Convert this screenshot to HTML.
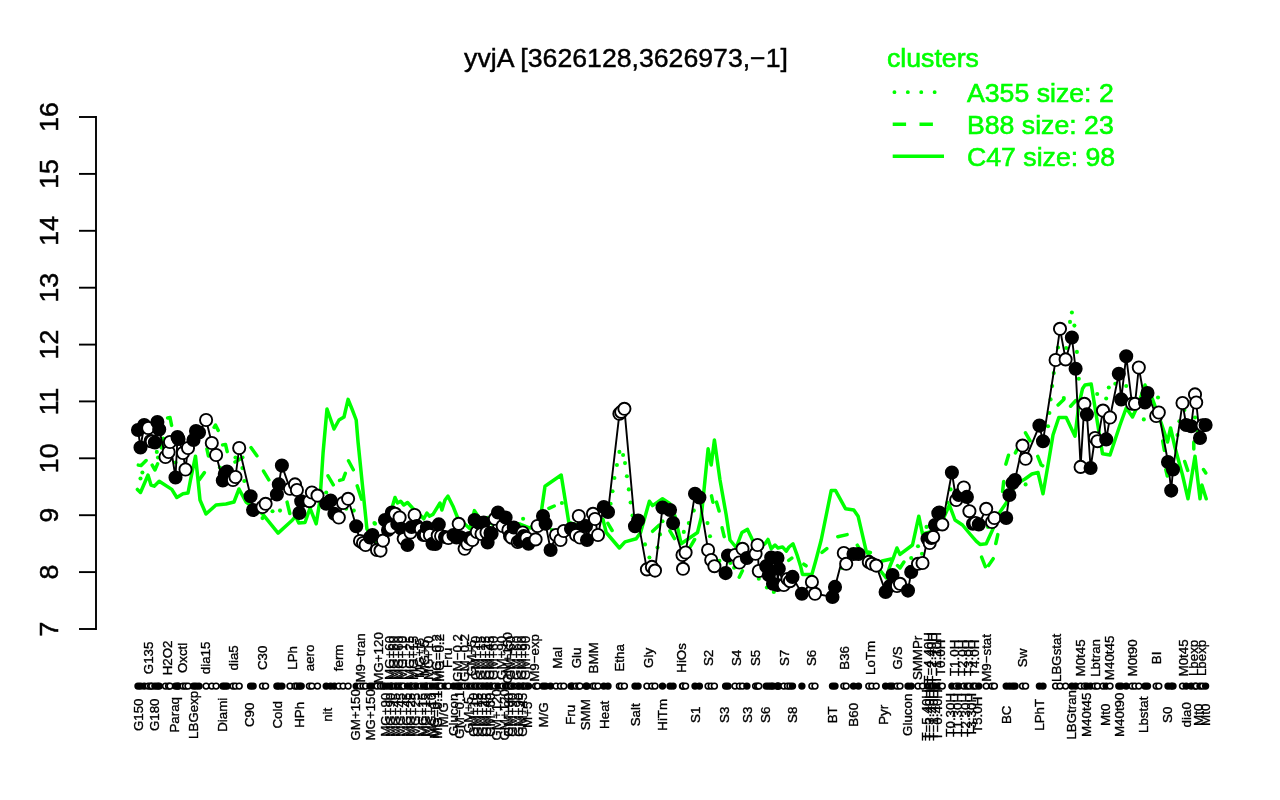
<!DOCTYPE html>
<html><head><meta charset="utf-8"><title>yvjA</title>
<style>html,body{margin:0;padding:0;background:#fff}svg{display:block}</style></head>
<body>
<svg width="1280" height="800" viewBox="0 0 1280 800" style="display:block">
<rect width="1280" height="800" fill="#fff"/>
<text x="626" y="66.6" font-family="'Liberation Sans', Arial, Helvetica, sans-serif" font-size="26.67" text-anchor="middle" fill="#000" stroke="#000" stroke-width="0.45">yvjA [3626128,3626973,−1]</text>
<g font-family="'Liberation Sans', Arial, Helvetica, sans-serif" font-size="26.67" fill="#00ff00" stroke="#00ff00" stroke-width="0.6">
<text x="887" y="67">clusters</text>
<text x="967" y="101.5">A355 size: 2</text>
<text x="967" y="133.5">B88 size: 23</text>
<text x="967" y="165.5">C47 size: 98</text>
</g>
<g stroke="#00ff00" stroke-width="3.6" fill="none">
<path d="M894.4 92.2H944" stroke-dasharray="0.1 13.3" stroke-linecap="round" stroke-width="3.8"/>
<path d="M892.7 124.2H944" stroke-dasharray="13.4 13.4"/>
<path d="M892.7 156.2H944"/>
</g>
<g stroke="#000" stroke-width="1.9" fill="none" stroke-linecap="butt">
<path d="M96 116.0V630.0"/>
<path d="M79 629.0H96"/>
<path d="M79 572.1H96"/>
<path d="M79 515.2H96"/>
<path d="M79 458.3H96"/>
<path d="M79 401.4H96"/>
<path d="M79 344.6H96"/>
<path d="M79 287.7H96"/>
<path d="M79 230.8H96"/>
<path d="M79 173.9H96"/>
<path d="M79 117.0H96"/>
</g>
<g font-family="'Liberation Sans', Arial, Helvetica, sans-serif" font-size="26.67" fill="#000" stroke="#000" stroke-width="0.5" text-anchor="middle">
<text transform="translate(58.3 629.0) rotate(-90)">7</text>
<text transform="translate(58.3 572.1) rotate(-90)">8</text>
<text transform="translate(58.3 515.2) rotate(-90)">9</text>
<text transform="translate(58.3 458.3) rotate(-90)">10</text>
<text transform="translate(58.3 401.4) rotate(-90)">11</text>
<text transform="translate(58.3 344.6) rotate(-90)">12</text>
<text transform="translate(58.3 287.7) rotate(-90)">13</text>
<text transform="translate(58.3 230.8) rotate(-90)">14</text>
<text transform="translate(58.3 173.9) rotate(-90)">15</text>
<text transform="translate(58.3 117.0) rotate(-90)">16</text>
</g>
<g stroke="#00ff00" stroke-width="3.5" fill="none" stroke-linejoin="round" stroke-linecap="round">
<polyline points="137.4,489.4 140.5,492.5 148.0,475.0 151.0,485.0 154.2,486.2 159.2,481.2 171.8,489.4 176.8,497.5 183.0,493.8 188.0,493.0 190.5,480.0 195.5,456.2 198.0,480.0 200.0,500.0 206.0,514.0 216.0,505.0 226.0,504.0 234.0,502.0 239.0,489.0 246.0,502.0 262.5,513.8 278.1,533.1 292.5,520.0 295.6,516.2 298.8,523.1 305.0,522.5 310.0,508.1 316.2,523.8 320.0,500.0 323.1,452.5 327.0,409.0 334.0,429.0 339.0,420.0 344.0,417.0 348.1,399.4 352.0,409.0 356.2,420.0 358.1,442.5 361.9,480.0 366.9,528.8 371.0,536.0 378.0,545.0 384.0,535.0 388.0,520.0 392.5,506.0 395.0,497.5 397.5,503.0 400.6,501.2 403.8,505.0 407.5,502.5 412.5,508.0 415.0,510.0 423.8,518.8 426.9,513.0 429.4,516.2 433.0,514.4 440.0,503.0 441.9,510.0 445.0,500.0 448.0,496.2 453.0,506.2 457.5,517.5 470.0,528.8 474.4,510.6 478.8,517.5 483.0,522.0 487.5,517.5 492.0,524.0 500.0,522.0 520.0,524.0 530.0,528.0 538.0,522.0 541.2,512.5 545.0,486.2 561.2,475.0 568.8,522.5 580.0,526.0 590.0,524.0 603.0,519.4 606.2,532.5 619.4,548.0 625.0,541.9 636.2,538.8 640.6,532.5 649.4,501.2 652.5,505.6 662.5,498.8 670.0,503.8 675.0,516.2 681.2,543.8 697.5,532.5 701.2,517.5 705.0,480.0 708.1,448.8 711.2,465.0 714.4,440.0 720.0,480.0 726.2,515.0 730.0,540.0 736.2,547.5 741.9,532.5 747.5,529.4 752.5,540.0 758.0,548.0 765.0,543.8 768.0,539.4 771.2,548.8 775.0,545.0 778.0,548.0 782.5,546.9 786.2,551.2 789.0,547.0 793.0,543.8 797.5,556.2 800.6,566.2 802.5,574.4 811.9,574.4 815.6,561.2 821.2,540.0 831.2,490.6 835.6,490.6 845.6,508.8 853.8,510.0 858.1,516.2 866.2,551.2 876.0,565.0 886.2,578.0 890.0,566.0 893.0,558.8 896.9,548.0 900.0,554.4 912.5,545.0 918.8,516.2 922.5,534.0 930.0,532.0 943.8,517.5 949.4,505.0 955.0,520.0 962.5,525.0 970.0,534.0 976.2,541.2 980.0,544.4 986.2,543.8 991.9,531.2 1000.0,512.0 1006.2,503.0 1012.0,490.0 1018.8,482.5 1025.0,479.0 1031.9,474.0 1038.0,472.5 1043.0,493.8 1048.0,465.0 1053.0,435.0 1058.8,417.5 1066.2,417.5 1075.0,436.2 1078.8,405.0 1082.5,388.8 1085.0,385.0 1091.2,384.0 1096.2,415.0 1102.5,453.8 1110.0,455.0 1120.0,425.0 1126.2,408.0 1132.5,417.0 1138.0,405.0 1145.0,385.0 1152.5,399.0 1161.2,423.0 1167.5,442.0 1170.6,428.0 1175.0,447.5 1182.5,475.0 1188.0,498.8 1195.0,456.2 1200.0,498.8 1201.9,485.0 1206.2,498.8"/>
<path stroke-linecap="round" d="M138.3 465.1 L141.1 465.6 L146.1 460.6 M152.2 465.2 L154.9 470.0 L157.6 463.9 M163.4 438.4 L161.3 447.9 M167.6 417.9 L170.0 417.5 L171.6 425.4 M204.4 472.6 L199.1 479.9 M206.9 449.0 L208.4 456.0 M214.1 427.3 L215.5 425.0 L218.2 430.4 M222.6 444.9 L225.5 444.4 L227.2 451.6 M235.0 462.0 L242.8 457.4 M251.0 447.6 L256.9 455.8 M263.5 471.1 L268.8 479.8 M287.1 502.1 L289.8 513.5 M328.0 475.8 L333.3 484.8 M339.6 480.4 L343.1 479.4 L345.3 473.3 M348.5 460.8 L353.3 469.8 M357.2 485.9 L361.6 499.1 M548.9 508.4 L554.2 506.0 M607.9 523.3 L612.1 530.5 M652.6 531.3 L659.3 525.0 M669.9 530.8 L674.5 538.6 M690.4 546.7 L694.6 539.5 M711.5 495.9 L712.9 502.2 M716.5 502.1 L719.1 511.0 M722.1 527.8 L724.2 536.6 M739.2 577.2 L742.4 570.8 M788.7 560.4 L791.8 558.1 M803.8 564.2 L806.1 565.8 M822.0 552.4 L826.8 548.6 M837.8 536.7 L847.1 534.6 M857.3 545.2 L859.6 549.2 M868.4 552.1 L870.4 552.4 M882.1 561.0 L891.1 559.0 M897.5 565.6 L900.0 568.0 L903.9 562.0 M981.6 557.1 L985.3 566.7 M988.5 565.5 L993.2 558.7 M995.8 543.5 L997.8 534.6 M1002.6 491.6 L1003.7 481.5 M1005.9 464.1 L1008.5 455.3 M1015.4 452.9 L1017.1 449.6 M1025.5 432.8 L1030.1 440.8 M1037.8 456.4 L1041.2 465.0 L1042.7 465.8 M1058.1 405.0 L1063.8 399.4 M1070.6 406.2 L1075.6 400.7 M1162.7 440.9 L1164.4 450.4 M1165.8 469.6 L1167.3 476.0 M1184.7 461.5 L1187.7 470.4 M1193.8 442.1 L1193.8 449.1 M1203.5 469.5 L1205.8 473.0"/>
</g>
<g fill="#00ff00">
<circle cx="142.4" cy="472.5" r="2.05"/>
<circle cx="140.5" cy="478.5" r="2.05"/>
<circle cx="156.8" cy="451.9" r="2.05"/>
<circle cx="158.0" cy="457.5" r="2.05"/>
<circle cx="175.5" cy="462.5" r="2.05"/>
<circle cx="219.9" cy="467.5" r="2.05"/>
<circle cx="235.5" cy="457.5" r="2.05"/>
<circle cx="242.4" cy="468.1" r="2.05"/>
<circle cx="244.3" cy="481.0" r="2.05"/>
<circle cx="262.5" cy="518.1" r="2.05"/>
<circle cx="272.5" cy="511.2" r="2.05"/>
<circle cx="280.0" cy="510.6" r="2.05"/>
<circle cx="326.2" cy="492.5" r="2.05"/>
<circle cx="346.2" cy="508.8" r="2.05"/>
<circle cx="353.8" cy="510.6" r="2.05"/>
<circle cx="374.4" cy="523.1" r="2.05"/>
<circle cx="375.0" cy="523.8" r="2.05"/>
<circle cx="523.1" cy="518.8" r="2.05"/>
<circle cx="561.9" cy="503.0" r="2.05"/>
<circle cx="551.9" cy="530.0" r="2.05"/>
<circle cx="610.6" cy="503.8" r="2.05"/>
<circle cx="612.5" cy="491.2" r="2.05"/>
<circle cx="614.4" cy="478.0" r="2.05"/>
<circle cx="616.9" cy="465.0" r="2.05"/>
<circle cx="619.4" cy="451.9" r="2.05"/>
<circle cx="623.1" cy="455.0" r="2.05"/>
<circle cx="625.0" cy="463.1" r="2.05"/>
<circle cx="626.9" cy="476.2" r="2.05"/>
<circle cx="628.8" cy="489.4" r="2.05"/>
<circle cx="630.6" cy="502.5" r="2.05"/>
<circle cx="632.5" cy="515.6" r="2.05"/>
<circle cx="645.0" cy="544.4" r="2.05"/>
<circle cx="649.4" cy="557.5" r="2.05"/>
<circle cx="657.5" cy="547.5" r="2.05"/>
<circle cx="660.0" cy="534.4" r="2.05"/>
<circle cx="662.5" cy="521.2" r="2.05"/>
<circle cx="683.8" cy="531.9" r="2.05"/>
<circle cx="688.8" cy="523.1" r="2.05"/>
<circle cx="693.8" cy="510.6" r="2.05"/>
<circle cx="707.5" cy="523.1" r="2.05"/>
<circle cx="710.0" cy="536.2" r="2.05"/>
<circle cx="719.4" cy="560.9" r="2.05"/>
<circle cx="730.3" cy="563.0" r="2.05"/>
<circle cx="734.1" cy="567.8" r="2.05"/>
<circle cx="758.8" cy="578.8" r="2.05"/>
<circle cx="766.9" cy="587.5" r="2.05"/>
<circle cx="773.8" cy="591.9" r="2.05"/>
<circle cx="841.9" cy="568.0" r="2.05"/>
<circle cx="911.2" cy="558.0" r="2.05"/>
<circle cx="918.0" cy="546.2" r="2.05"/>
<circle cx="922.0" cy="553.8" r="2.05"/>
<circle cx="926.5" cy="526.9" r="2.05"/>
<circle cx="947.5" cy="502.5" r="2.05"/>
<circle cx="950.6" cy="489.4" r="2.05"/>
<circle cx="988.0" cy="526.9" r="2.05"/>
<circle cx="1025.6" cy="484.4" r="2.05"/>
<circle cx="1048.0" cy="426.2" r="2.05"/>
<circle cx="1049.4" cy="413.0" r="2.05"/>
<circle cx="1050.6" cy="399.4" r="2.05"/>
<circle cx="1052.2" cy="386.0" r="2.05"/>
<circle cx="1053.8" cy="373.0" r="2.05"/>
<circle cx="1058.0" cy="347.5" r="2.05"/>
<circle cx="1066.2" cy="348.0" r="2.05"/>
<circle cx="1070.0" cy="321.9" r="2.05"/>
<circle cx="1071.9" cy="312.5" r="2.05"/>
<circle cx="1074.4" cy="325.6" r="2.05"/>
<circle cx="1076.9" cy="351.9" r="2.05"/>
<circle cx="1078.8" cy="378.8" r="2.05"/>
<circle cx="1063.8" cy="398.0" r="2.05"/>
<circle cx="1097.2" cy="394.0" r="2.05"/>
<circle cx="1106.2" cy="398.5" r="2.05"/>
<circle cx="1108.8" cy="387.5" r="2.05"/>
<circle cx="1115.3" cy="383.8" r="2.05"/>
<circle cx="1126.2" cy="386.0" r="2.05"/>
<circle cx="1143.8" cy="419.4" r="2.05"/>
<circle cx="1158.0" cy="397.5" r="2.05"/>
<circle cx="1179.4" cy="421.2" r="2.05"/>
<circle cx="1177.5" cy="435.0" r="2.05"/>
<circle cx="1184.4" cy="410.0" r="2.05"/>
<circle cx="1195.0" cy="417.5" r="2.05"/>
<circle cx="1198.0" cy="431.2" r="2.05"/>
</g>
<polyline points="138.0,430.0 140.5,447.5 144.2,425.0 148.2,428.0 150.6,441.0 151.8,441.5 154.9,442.5 157.4,422.0 159.2,429.5 165.5,457.0 168.6,452.0 170.0,442.0 175.5,477.5 177.5,437.0 178.5,439.0 183.0,453.0 185.5,469.5 188.0,448.0 193.5,440.0 196.0,431.0 199.0,432.5 206.1,420.0 211.8,443.0 216.1,455.0 222.8,480.5 224.8,474.0 227.0,471.5 233.0,480.0 235.5,477.0 239.2,448.0 250.6,496.2 253.1,510.0 262.5,507.0 265.6,503.8 276.9,494.4 278.8,484.4 281.9,465.6 290.0,488.8 295.0,484.4 296.9,490.0 299.4,513.0 301.2,501.2 309.4,501.2 311.9,492.5 317.5,495.6 326.2,503.8 330.6,500.6 334.4,513.8 338.8,517.5 343.1,503.0 348.1,498.8 356.2,526.2 360.0,541.0 363.0,543.0 365.6,545.0 370.0,537.5 372.5,535.0 377.0,550.0 380.5,550.6 383.0,540.6 385.0,520.0 388.0,530.0 390.9,527.5 391.9,512.5 395.2,513.8 397.3,524.0 399.6,517.5 401.4,528.8 403.7,538.8 407.5,545.0 410.5,532.5 411.6,527.0 414.6,515.0 416.8,526.0 420.9,529.0 423.5,535.0 425.9,535.0 426.9,527.5 429.9,535.0 432.5,543.8 435.5,544.0 437.7,535.6 438.8,524.4 441.1,536.0 445.0,537.0 448.4,538.0 453.5,535.0 456.5,537.5 458.7,523.8 459.8,537.0 461.8,538.0 464.6,548.8 467.4,543.8 469.6,538.0 472.4,540.0 474.6,520.0 476.8,532.0 479.0,523.0 481.5,534.0 483.7,522.5 486.5,532.5 487.6,542.5 490.5,533.0 491.6,533.8 494.9,518.8 498.0,512.5 502.7,526.0 505.6,517.5 508.4,530.0 510.0,536.0 511.5,537.5 513.8,527.5 517.7,542.0 519.5,541.0 522.7,532.5 523.8,536.0 526.5,538.0 528.5,543.8 535.6,539.4 537.5,526.0 543.0,516.0 545.6,523.8 550.6,550.0 556.0,535.0 560.5,540.0 563.8,531.0 571.0,528.8 572.5,529.0 576.0,535.0 578.8,516.0 580.0,537.5 586.0,526.0 587.0,540.0 593.0,513.8 595.0,519.0 598.0,535.0 603.8,507.0 608.0,512.0 619.4,413.8 621.2,411.9 624.4,408.8 635.0,526.2 638.1,520.6 646.9,569.4 651.9,566.9 655.0,570.6 662.5,507.5 670.0,510.0 673.1,523.1 682.5,555.0 683.0,568.8 685.6,552.5 695.0,493.8 699.4,497.5 708.1,550.0 711.2,560.0 714.4,566.2 725.6,573.1 728.0,555.6 735.0,555.0 739.4,562.5 742.5,548.8 746.9,558.0 755.6,553.8 757.5,545.0 758.8,571.0 766.2,566.2 768.8,575.0 771.2,557.5 773.0,583.8 777.5,558.0 777.5,585.0 778.8,568.8 783.8,585.0 787.5,579.0 790.0,581.2 792.5,576.9 801.9,593.8 811.9,581.9 815.0,593.8 832.5,596.9 835.0,586.9 843.8,553.0 846.2,563.8 853.5,554.0 858.5,554.0 868.8,561.9 871.9,563.8 876.2,565.6 885.6,591.9 890.0,586.0 892.5,575.0 897.0,586.0 900.0,583.8 908.0,590.6 911.2,571.9 918.0,563.8 922.5,563.0 927.5,538.8 929.7,543.0 931.3,538.0 933.2,536.9 935.0,525.0 938.3,513.3 939.3,512.5 942.3,524.4 951.9,472.5 956.2,500.0 958.8,495.0 963.8,487.5 966.9,496.9 969.4,511.2 973.0,523.8 975.5,523.0 978.8,524.4 986.2,508.8 992.0,522.0 994.4,518.0 1006.2,518.0 1009.4,495.0 1012.5,483.0 1015.0,480.0 1022.5,445.6 1025.6,458.8 1039.4,425.6 1043.0,441.2 1055.6,360.0 1060.0,328.8 1065.6,359.4 1071.9,337.5 1075.6,368.8 1080.6,466.9 1084.4,403.8 1086.9,414.4 1090.6,468.0 1095.0,438.0 1097.5,441.2 1103.0,410.6 1106.2,439.4 1110.0,417.5 1118.8,373.8 1121.2,399.4 1126.2,356.2 1132.0,403.8 1135.0,403.8 1138.8,367.5 1145.0,402.5 1147.5,393.0 1156.2,416.0 1158.8,412.5 1168.0,462.0 1171.2,490.6 1173.0,469.4 1182.5,403.0 1186.2,425.0 1191.2,426.2 1195.0,394.4 1196.2,402.5 1200.0,438.0 1202.6,425.4 1205.6,425.0" stroke="#000" stroke-width="1.9" fill="none" stroke-linejoin="round"/>
<g stroke="#000" stroke-width="1.9">
<circle cx="138.0" cy="430.0" r="6.1" fill="#000"/>
<circle cx="140.5" cy="447.5" r="6.1" fill="#000"/>
<circle cx="144.2" cy="425.0" r="6.1" fill="#000"/>
<circle cx="148.2" cy="428.0" r="6.1" fill="#fff"/>
<circle cx="150.6" cy="441.0" r="6.1" fill="#fff"/>
<circle cx="151.8" cy="441.5" r="6.1" fill="#fff"/>
<circle cx="154.9" cy="442.5" r="6.1" fill="#000"/>
<circle cx="157.4" cy="422.0" r="6.1" fill="#000"/>
<circle cx="159.2" cy="429.5" r="6.1" fill="#000"/>
<circle cx="165.5" cy="457.0" r="6.1" fill="#fff"/>
<circle cx="168.6" cy="452.0" r="6.1" fill="#fff"/>
<circle cx="170.0" cy="442.0" r="6.1" fill="#fff"/>
<circle cx="175.5" cy="477.5" r="6.1" fill="#000"/>
<circle cx="177.5" cy="437.0" r="6.1" fill="#000"/>
<circle cx="178.5" cy="439.0" r="6.1" fill="#000"/>
<circle cx="183.0" cy="453.0" r="6.1" fill="#fff"/>
<circle cx="185.5" cy="469.5" r="6.1" fill="#fff"/>
<circle cx="188.0" cy="448.0" r="6.1" fill="#fff"/>
<circle cx="193.5" cy="440.0" r="6.1" fill="#000"/>
<circle cx="196.0" cy="431.0" r="6.1" fill="#000"/>
<circle cx="199.0" cy="432.5" r="6.1" fill="#000"/>
<circle cx="206.1" cy="420.0" r="6.1" fill="#fff"/>
<circle cx="211.8" cy="443.0" r="6.1" fill="#fff"/>
<circle cx="216.1" cy="455.0" r="6.1" fill="#fff"/>
<circle cx="222.8" cy="480.5" r="6.1" fill="#000"/>
<circle cx="224.8" cy="474.0" r="6.1" fill="#000"/>
<circle cx="227.0" cy="471.5" r="6.1" fill="#000"/>
<circle cx="233.0" cy="480.0" r="6.1" fill="#fff"/>
<circle cx="235.5" cy="477.0" r="6.1" fill="#fff"/>
<circle cx="239.2" cy="448.0" r="6.1" fill="#fff"/>
<circle cx="250.6" cy="496.2" r="6.1" fill="#000"/>
<circle cx="253.1" cy="510.0" r="6.1" fill="#000"/>
<circle cx="262.5" cy="507.0" r="6.1" fill="#fff"/>
<circle cx="265.6" cy="503.8" r="6.1" fill="#fff"/>
<circle cx="276.9" cy="494.4" r="6.1" fill="#000"/>
<circle cx="278.8" cy="484.4" r="6.1" fill="#000"/>
<circle cx="281.9" cy="465.6" r="6.1" fill="#000"/>
<circle cx="290.0" cy="488.8" r="6.1" fill="#fff"/>
<circle cx="295.0" cy="484.4" r="6.1" fill="#fff"/>
<circle cx="296.9" cy="490.0" r="6.1" fill="#fff"/>
<circle cx="299.4" cy="513.0" r="6.1" fill="#000"/>
<circle cx="301.2" cy="501.2" r="6.1" fill="#000"/>
<circle cx="309.4" cy="501.2" r="6.1" fill="#fff"/>
<circle cx="311.9" cy="492.5" r="6.1" fill="#fff"/>
<circle cx="317.5" cy="495.6" r="6.1" fill="#fff"/>
<circle cx="326.2" cy="503.8" r="6.1" fill="#000"/>
<circle cx="330.6" cy="500.6" r="6.1" fill="#000"/>
<circle cx="334.4" cy="513.8" r="6.1" fill="#000"/>
<circle cx="338.8" cy="517.5" r="6.1" fill="#fff"/>
<circle cx="343.1" cy="503.0" r="6.1" fill="#fff"/>
<circle cx="348.1" cy="498.8" r="6.1" fill="#fff"/>
<circle cx="356.2" cy="526.2" r="6.1" fill="#000"/>
<circle cx="360.0" cy="541.0" r="6.1" fill="#fff"/>
<circle cx="363.0" cy="543.0" r="6.1" fill="#fff"/>
<circle cx="365.6" cy="545.0" r="6.1" fill="#fff"/>
<circle cx="370.0" cy="537.5" r="6.1" fill="#000"/>
<circle cx="372.5" cy="535.0" r="6.1" fill="#000"/>
<circle cx="377.0" cy="550.0" r="6.1" fill="#fff"/>
<circle cx="380.5" cy="550.6" r="6.1" fill="#fff"/>
<circle cx="383.0" cy="540.6" r="6.1" fill="#fff"/>
<circle cx="385.0" cy="520.0" r="6.1" fill="#000"/>
<circle cx="388.0" cy="530.0" r="6.1" fill="#000"/>
<circle cx="390.9" cy="527.5" r="6.1" fill="#fff"/>
<circle cx="391.9" cy="512.5" r="6.1" fill="#000"/>
<circle cx="395.2" cy="513.8" r="6.1" fill="#fff"/>
<circle cx="397.3" cy="524.0" r="6.1" fill="#000"/>
<circle cx="399.6" cy="517.5" r="6.1" fill="#fff"/>
<circle cx="401.4" cy="528.8" r="6.1" fill="#000"/>
<circle cx="403.7" cy="538.8" r="6.1" fill="#fff"/>
<circle cx="407.5" cy="545.0" r="6.1" fill="#000"/>
<circle cx="410.5" cy="532.5" r="6.1" fill="#fff"/>
<circle cx="411.6" cy="527.0" r="6.1" fill="#000"/>
<circle cx="414.6" cy="515.0" r="6.1" fill="#fff"/>
<circle cx="416.8" cy="526.0" r="6.1" fill="#000"/>
<circle cx="420.9" cy="529.0" r="6.1" fill="#fff"/>
<circle cx="423.5" cy="535.0" r="6.1" fill="#000"/>
<circle cx="425.9" cy="535.0" r="6.1" fill="#fff"/>
<circle cx="426.9" cy="527.5" r="6.1" fill="#000"/>
<circle cx="429.9" cy="535.0" r="6.1" fill="#fff"/>
<circle cx="432.5" cy="543.8" r="6.1" fill="#000"/>
<circle cx="435.5" cy="544.0" r="6.1" fill="#000"/>
<circle cx="437.7" cy="535.6" r="6.1" fill="#fff"/>
<circle cx="438.8" cy="524.4" r="6.1" fill="#000"/>
<circle cx="441.1" cy="536.0" r="6.1" fill="#fff"/>
<circle cx="445.0" cy="537.0" r="6.1" fill="#000"/>
<circle cx="448.4" cy="538.0" r="6.1" fill="#fff"/>
<circle cx="453.5" cy="535.0" r="6.1" fill="#000"/>
<circle cx="456.5" cy="537.5" r="6.1" fill="#000"/>
<circle cx="458.7" cy="523.8" r="6.1" fill="#fff"/>
<circle cx="459.8" cy="537.0" r="6.1" fill="#000"/>
<circle cx="461.8" cy="538.0" r="6.1" fill="#000"/>
<circle cx="464.6" cy="548.8" r="6.1" fill="#fff"/>
<circle cx="467.4" cy="543.8" r="6.1" fill="#fff"/>
<circle cx="469.6" cy="538.0" r="6.1" fill="#000"/>
<circle cx="472.4" cy="540.0" r="6.1" fill="#fff"/>
<circle cx="474.6" cy="520.0" r="6.1" fill="#000"/>
<circle cx="476.8" cy="532.0" r="6.1" fill="#fff"/>
<circle cx="479.0" cy="523.0" r="6.1" fill="#000"/>
<circle cx="481.5" cy="534.0" r="6.1" fill="#fff"/>
<circle cx="483.7" cy="522.5" r="6.1" fill="#000"/>
<circle cx="486.5" cy="532.5" r="6.1" fill="#fff"/>
<circle cx="487.6" cy="542.5" r="6.1" fill="#000"/>
<circle cx="490.5" cy="533.0" r="6.1" fill="#fff"/>
<circle cx="491.6" cy="533.8" r="6.1" fill="#000"/>
<circle cx="494.9" cy="518.8" r="6.1" fill="#fff"/>
<circle cx="498.0" cy="512.5" r="6.1" fill="#000"/>
<circle cx="502.7" cy="526.0" r="6.1" fill="#fff"/>
<circle cx="505.6" cy="517.5" r="6.1" fill="#000"/>
<circle cx="508.4" cy="530.0" r="6.1" fill="#fff"/>
<circle cx="510.0" cy="536.0" r="6.1" fill="#000"/>
<circle cx="511.5" cy="537.5" r="6.1" fill="#fff"/>
<circle cx="513.8" cy="527.5" r="6.1" fill="#000"/>
<circle cx="517.7" cy="542.0" r="6.1" fill="#fff"/>
<circle cx="519.5" cy="541.0" r="6.1" fill="#000"/>
<circle cx="522.7" cy="532.5" r="6.1" fill="#fff"/>
<circle cx="523.8" cy="536.0" r="6.1" fill="#000"/>
<circle cx="526.5" cy="538.0" r="6.1" fill="#fff"/>
<circle cx="528.5" cy="543.8" r="6.1" fill="#000"/>
<circle cx="535.6" cy="539.4" r="6.1" fill="#fff"/>
<circle cx="537.5" cy="526.0" r="6.1" fill="#fff"/>
<circle cx="543.0" cy="516.0" r="6.1" fill="#000"/>
<circle cx="545.6" cy="523.8" r="6.1" fill="#000"/>
<circle cx="550.6" cy="550.0" r="6.1" fill="#000"/>
<circle cx="556.0" cy="535.0" r="6.1" fill="#fff"/>
<circle cx="560.5" cy="540.0" r="6.1" fill="#fff"/>
<circle cx="563.8" cy="531.0" r="6.1" fill="#fff"/>
<circle cx="571.0" cy="528.8" r="6.1" fill="#000"/>
<circle cx="572.5" cy="529.0" r="6.1" fill="#000"/>
<circle cx="576.0" cy="535.0" r="6.1" fill="#fff"/>
<circle cx="578.8" cy="516.0" r="6.1" fill="#fff"/>
<circle cx="580.0" cy="537.5" r="6.1" fill="#fff"/>
<circle cx="586.0" cy="526.0" r="6.1" fill="#000"/>
<circle cx="587.0" cy="540.0" r="6.1" fill="#000"/>
<circle cx="593.0" cy="513.8" r="6.1" fill="#fff"/>
<circle cx="595.0" cy="519.0" r="6.1" fill="#fff"/>
<circle cx="598.0" cy="535.0" r="6.1" fill="#fff"/>
<circle cx="603.8" cy="507.0" r="6.1" fill="#000"/>
<circle cx="608.0" cy="512.0" r="6.1" fill="#000"/>
<circle cx="619.4" cy="413.8" r="6.1" fill="#fff"/>
<circle cx="621.2" cy="411.9" r="6.1" fill="#fff"/>
<circle cx="624.4" cy="408.8" r="6.1" fill="#fff"/>
<circle cx="635.0" cy="526.2" r="6.1" fill="#000"/>
<circle cx="638.1" cy="520.6" r="6.1" fill="#000"/>
<circle cx="646.9" cy="569.4" r="6.1" fill="#fff"/>
<circle cx="651.9" cy="566.9" r="6.1" fill="#fff"/>
<circle cx="655.0" cy="570.6" r="6.1" fill="#fff"/>
<circle cx="662.5" cy="507.5" r="6.1" fill="#000"/>
<circle cx="670.0" cy="510.0" r="6.1" fill="#000"/>
<circle cx="673.1" cy="523.1" r="6.1" fill="#000"/>
<circle cx="682.5" cy="555.0" r="6.1" fill="#fff"/>
<circle cx="683.0" cy="568.8" r="6.1" fill="#fff"/>
<circle cx="685.6" cy="552.5" r="6.1" fill="#fff"/>
<circle cx="695.0" cy="493.8" r="6.1" fill="#000"/>
<circle cx="699.4" cy="497.5" r="6.1" fill="#000"/>
<circle cx="708.1" cy="550.0" r="6.1" fill="#fff"/>
<circle cx="711.2" cy="560.0" r="6.1" fill="#fff"/>
<circle cx="714.4" cy="566.2" r="6.1" fill="#fff"/>
<circle cx="725.6" cy="573.1" r="6.1" fill="#000"/>
<circle cx="728.0" cy="555.6" r="6.1" fill="#000"/>
<circle cx="735.0" cy="555.0" r="6.1" fill="#fff"/>
<circle cx="739.4" cy="562.5" r="6.1" fill="#fff"/>
<circle cx="742.5" cy="548.8" r="6.1" fill="#fff"/>
<circle cx="746.9" cy="558.0" r="6.1" fill="#000"/>
<circle cx="755.6" cy="553.8" r="6.1" fill="#fff"/>
<circle cx="757.5" cy="545.0" r="6.1" fill="#fff"/>
<circle cx="758.8" cy="571.0" r="6.1" fill="#fff"/>
<circle cx="766.2" cy="566.2" r="6.1" fill="#000"/>
<circle cx="768.8" cy="575.0" r="6.1" fill="#000"/>
<circle cx="771.2" cy="557.5" r="6.1" fill="#000"/>
<circle cx="773.0" cy="583.8" r="6.1" fill="#000"/>
<circle cx="777.5" cy="558.0" r="6.1" fill="#000"/>
<circle cx="777.5" cy="585.0" r="6.1" fill="#000"/>
<circle cx="778.8" cy="568.8" r="6.1" fill="#000"/>
<circle cx="783.8" cy="585.0" r="6.1" fill="#fff"/>
<circle cx="787.5" cy="579.0" r="6.1" fill="#fff"/>
<circle cx="790.0" cy="581.2" r="6.1" fill="#fff"/>
<circle cx="792.5" cy="576.9" r="6.1" fill="#000"/>
<circle cx="801.9" cy="593.8" r="6.1" fill="#000"/>
<circle cx="811.9" cy="581.9" r="6.1" fill="#fff"/>
<circle cx="815.0" cy="593.8" r="6.1" fill="#fff"/>
<circle cx="832.5" cy="596.9" r="6.1" fill="#000"/>
<circle cx="835.0" cy="586.9" r="6.1" fill="#000"/>
<circle cx="843.8" cy="553.0" r="6.1" fill="#fff"/>
<circle cx="846.2" cy="563.8" r="6.1" fill="#fff"/>
<circle cx="853.5" cy="554.0" r="6.1" fill="#000"/>
<circle cx="858.5" cy="554.0" r="6.1" fill="#000"/>
<circle cx="868.8" cy="561.9" r="6.1" fill="#fff"/>
<circle cx="871.9" cy="563.8" r="6.1" fill="#fff"/>
<circle cx="876.2" cy="565.6" r="6.1" fill="#fff"/>
<circle cx="885.6" cy="591.9" r="6.1" fill="#000"/>
<circle cx="890.0" cy="586.0" r="6.1" fill="#000"/>
<circle cx="892.5" cy="575.0" r="6.1" fill="#000"/>
<circle cx="897.0" cy="586.0" r="6.1" fill="#fff"/>
<circle cx="900.0" cy="583.8" r="6.1" fill="#fff"/>
<circle cx="908.0" cy="590.6" r="6.1" fill="#000"/>
<circle cx="911.2" cy="571.9" r="6.1" fill="#000"/>
<circle cx="918.0" cy="563.8" r="6.1" fill="#fff"/>
<circle cx="922.5" cy="563.0" r="6.1" fill="#fff"/>
<circle cx="927.5" cy="538.8" r="6.1" fill="#000"/>
<circle cx="929.7" cy="543.0" r="6.1" fill="#fff"/>
<circle cx="931.3" cy="538.0" r="6.1" fill="#000"/>
<circle cx="933.2" cy="536.9" r="6.1" fill="#fff"/>
<circle cx="935.0" cy="525.0" r="6.1" fill="#000"/>
<circle cx="938.3" cy="513.3" r="6.1" fill="#fff"/>
<circle cx="939.3" cy="512.5" r="6.1" fill="#000"/>
<circle cx="942.3" cy="524.4" r="6.1" fill="#fff"/>
<circle cx="951.9" cy="472.5" r="6.1" fill="#000"/>
<circle cx="956.2" cy="500.0" r="6.1" fill="#fff"/>
<circle cx="958.8" cy="495.0" r="6.1" fill="#000"/>
<circle cx="963.8" cy="487.5" r="6.1" fill="#fff"/>
<circle cx="966.9" cy="496.9" r="6.1" fill="#000"/>
<circle cx="969.4" cy="511.2" r="6.1" fill="#fff"/>
<circle cx="973.0" cy="523.8" r="6.1" fill="#000"/>
<circle cx="975.5" cy="523.0" r="6.1" fill="#fff"/>
<circle cx="978.8" cy="524.4" r="6.1" fill="#000"/>
<circle cx="986.2" cy="508.8" r="6.1" fill="#fff"/>
<circle cx="992.0" cy="522.0" r="6.1" fill="#fff"/>
<circle cx="994.4" cy="518.0" r="6.1" fill="#fff"/>
<circle cx="1006.2" cy="518.0" r="6.1" fill="#000"/>
<circle cx="1009.4" cy="495.0" r="6.1" fill="#000"/>
<circle cx="1012.5" cy="483.0" r="6.1" fill="#000"/>
<circle cx="1015.0" cy="480.0" r="6.1" fill="#000"/>
<circle cx="1022.5" cy="445.6" r="6.1" fill="#fff"/>
<circle cx="1025.6" cy="458.8" r="6.1" fill="#fff"/>
<circle cx="1039.4" cy="425.6" r="6.1" fill="#000"/>
<circle cx="1043.0" cy="441.2" r="6.1" fill="#000"/>
<circle cx="1055.6" cy="360.0" r="6.1" fill="#fff"/>
<circle cx="1060.0" cy="328.8" r="6.1" fill="#fff"/>
<circle cx="1065.6" cy="359.4" r="6.1" fill="#fff"/>
<circle cx="1071.9" cy="337.5" r="6.1" fill="#000"/>
<circle cx="1075.6" cy="368.8" r="6.1" fill="#000"/>
<circle cx="1080.6" cy="466.9" r="6.1" fill="#fff"/>
<circle cx="1084.4" cy="403.8" r="6.1" fill="#fff"/>
<circle cx="1086.9" cy="414.4" r="6.1" fill="#000"/>
<circle cx="1090.6" cy="468.0" r="6.1" fill="#000"/>
<circle cx="1095.0" cy="438.0" r="6.1" fill="#fff"/>
<circle cx="1097.5" cy="441.2" r="6.1" fill="#fff"/>
<circle cx="1103.0" cy="410.6" r="6.1" fill="#fff"/>
<circle cx="1106.2" cy="439.4" r="6.1" fill="#000"/>
<circle cx="1110.0" cy="417.5" r="6.1" fill="#fff"/>
<circle cx="1118.8" cy="373.8" r="6.1" fill="#000"/>
<circle cx="1121.2" cy="399.4" r="6.1" fill="#000"/>
<circle cx="1126.2" cy="356.2" r="6.1" fill="#000"/>
<circle cx="1132.0" cy="403.8" r="6.1" fill="#fff"/>
<circle cx="1135.0" cy="403.8" r="6.1" fill="#fff"/>
<circle cx="1138.8" cy="367.5" r="6.1" fill="#fff"/>
<circle cx="1145.0" cy="402.5" r="6.1" fill="#000"/>
<circle cx="1147.5" cy="393.0" r="6.1" fill="#000"/>
<circle cx="1156.2" cy="416.0" r="6.1" fill="#fff"/>
<circle cx="1158.8" cy="412.5" r="6.1" fill="#fff"/>
<circle cx="1168.0" cy="462.0" r="6.1" fill="#000"/>
<circle cx="1171.2" cy="490.6" r="6.1" fill="#000"/>
<circle cx="1173.0" cy="469.4" r="6.1" fill="#000"/>
<circle cx="1182.5" cy="403.0" r="6.1" fill="#fff"/>
<circle cx="1186.2" cy="425.0" r="6.1" fill="#000"/>
<circle cx="1191.2" cy="426.2" r="6.1" fill="#000"/>
<circle cx="1195.0" cy="394.4" r="6.1" fill="#fff"/>
<circle cx="1196.2" cy="402.5" r="6.1" fill="#fff"/>
<circle cx="1200.0" cy="438.0" r="6.1" fill="#000"/>
<circle cx="1202.6" cy="425.4" r="6.1" fill="#fff"/>
<circle cx="1205.6" cy="425.0" r="6.1" fill="#000"/>
</g>
<g font-family="'Liberation Sans', Arial, Helvetica, sans-serif" font-size="13.33" fill="#000" stroke="#000" stroke-width="0.35" text-anchor="middle">
<text transform="translate(142.8 714.8) rotate(-90)">G150</text>
<text transform="translate(152.8 657.9) rotate(-90)">G135</text>
<text transform="translate(159.1 714.8) rotate(-90)">G180</text>
<text transform="translate(171.6 657.9) rotate(-90)">H2O2</text>
<text transform="translate(179.1 714.8) rotate(-90)">Paraq</text>
<text transform="translate(186.6 657.9) rotate(-90)">Oxctl</text>
<text transform="translate(197.8 714.8) rotate(-90)">LBGexp</text>
<text transform="translate(210.3 657.9) rotate(-90)">dia15</text>
<text transform="translate(226.6 714.8) rotate(-90)">Diami</text>
<text transform="translate(237.8 657.9) rotate(-90)">dia5</text>
<text transform="translate(254.1 714.8) rotate(-90)">C90</text>
<text transform="translate(267.4 657.9) rotate(-90)">C30</text>
<text transform="translate(281.6 714.8) rotate(-90)">Cold</text>
<text transform="translate(296.6 657.9) rotate(-90)">LPh</text>
<text transform="translate(304.1 714.8) rotate(-90)">HPh</text>
<text transform="translate(314.1 657.9) rotate(-90)">aero</text>
<text transform="translate(331.6 714.8) rotate(-90)">nit</text>
<text transform="translate(342.9 657.9) rotate(-90)">ferm</text>
<text transform="translate(360.4 714.8) rotate(-90)">GM+150</text>
<text transform="translate(365.4 657.9) rotate(-90)">M9−tran</text>
<text transform="translate(375.4 714.8) rotate(-90)">MG+150</text>
<text transform="translate(382.9 657.9) rotate(-90)">MG+120</text>
<text transform="translate(389.6 714.8) rotate(-90)">MG+90</text>
<text transform="translate(394.0 657.9) rotate(-90)">MG+60</text>
<text transform="translate(395.0 714.8) rotate(-90)">MG+90</text>
<text transform="translate(398.3 657.9) rotate(-90)">MG+60</text>
<text transform="translate(400.4 714.8) rotate(-90)">MG+45</text>
<text transform="translate(402.7 657.9) rotate(-90)">MG+60</text>
<text transform="translate(404.5 714.8) rotate(-90)">MG+45</text>
<text transform="translate(406.8 657.9) rotate(-90)">MG+10</text>
<text transform="translate(410.6 714.8) rotate(-90)">MG+45</text>
<text transform="translate(413.6 657.9) rotate(-90)">MG+25</text>
<text transform="translate(414.7 714.8) rotate(-90)">MG+25</text>
<text transform="translate(417.7 657.9) rotate(-90)">MG+15</text>
<text transform="translate(419.9 714.8) rotate(-90)">MG+25</text>
<text transform="translate(424.0 657.9) rotate(-90)">MG+t5</text>
<text transform="translate(426.6 714.8) rotate(-90)">MG+15</text>
<text transform="translate(429.0 657.9) rotate(-90)">MG+5</text>
<text transform="translate(430.0 714.8) rotate(-90)">MG+15</text>
<text transform="translate(433.0 657.9) rotate(-90)">MG+10</text>
<text transform="translate(435.6 714.8) rotate(-90)">MG+10</text>
<text transform="translate(438.6 714.8) rotate(-90)">MG−0.1</text>
<text transform="translate(440.8 657.9) rotate(-90)">MG−0.2</text>
<text transform="translate(441.9 714.8) rotate(-90)">MG−0.1</text>
<text transform="translate(444.2 657.9) rotate(-90)">MG−0.2</text>
<text transform="translate(448.1 714.8) rotate(-90)">M/G</text>
<text transform="translate(451.5 657.9) rotate(-90)">Fru</text>
<text transform="translate(458.1 714.8) rotate(-90)">Glucon</text>
<text transform="translate(461.8 657.9) rotate(-90)">GM−0.2</text>
<text transform="translate(463.9 714.8) rotate(-90)">GM−0.1</text>
<text transform="translate(469.1 657.9) rotate(-90)">GM−0.2</text>
<text transform="translate(472.7 714.8) rotate(-90)">GM+5</text>
<text transform="translate(475.5 657.9) rotate(-90)">GM+5</text>
<text transform="translate(477.7 714.8) rotate(-90)">GM+10</text>
<text transform="translate(479.9 657.9) rotate(-90)">GM+10</text>
<text transform="translate(482.1 714.8) rotate(-90)">GM+15</text>
<text transform="translate(484.6 657.9) rotate(-90)">GM+15</text>
<text transform="translate(486.8 714.8) rotate(-90)">GM+25</text>
<text transform="translate(489.6 657.9) rotate(-90)">GM+25</text>
<text transform="translate(490.7 714.8) rotate(-90)">GM+45</text>
<text transform="translate(493.6 657.9) rotate(-90)">GM+45</text>
<text transform="translate(494.7 714.8) rotate(-90)">GM+60</text>
<text transform="translate(498.0 657.9) rotate(-90)">GM+60</text>
<text transform="translate(501.1 714.8) rotate(-90)">GM+120</text>
<text transform="translate(505.8 657.9) rotate(-90)">GM+90</text>
<text transform="translate(508.7 714.8) rotate(-90)">GM+120</text>
<text transform="translate(511.5 657.9) rotate(-90)">GM+150</text>
<text transform="translate(513.1 714.8) rotate(-90)">GM+90</text>
<text transform="translate(514.6 657.9) rotate(-90)">GM+60</text>
<text transform="translate(516.9 714.8) rotate(-90)">GM+90</text>
<text transform="translate(520.8 657.9) rotate(-90)">GM+60</text>
<text transform="translate(522.6 714.8) rotate(-90)">GM+90</text>
<text transform="translate(525.8 657.9) rotate(-90)">GM+60</text>
<text transform="translate(526.9 714.8) rotate(-90)">GM+45</text>
<text transform="translate(529.6 657.9) rotate(-90)">GM+90</text>
<text transform="translate(531.6 714.8) rotate(-90)">M+5</text>
<text transform="translate(539.1 657.9) rotate(-90)">M9−exp</text>
<text transform="translate(548.1 714.8) rotate(-90)">M/G</text>
<text transform="translate(561.6 657.9) rotate(-90)">Mal</text>
<text transform="translate(574.7 714.8) rotate(-90)">Fru</text>
<text transform="translate(581.1 657.9) rotate(-90)">Glu</text>
<text transform="translate(589.7 714.8) rotate(-90)">SMM</text>
<text transform="translate(598.1 657.9) rotate(-90)">BMM</text>
<text transform="translate(609.3 714.8) rotate(-90)">Heat</text>
<text transform="translate(624.3 657.9) rotate(-90)">Etha</text>
<text transform="translate(640.1 714.8) rotate(-90)">Salt</text>
<text transform="translate(652.8 657.9) rotate(-90)">Gly</text>
<text transform="translate(667.1 714.8) rotate(-90)">HiTm</text>
<text transform="translate(685.8 657.9) rotate(-90)">HiOs</text>
<text transform="translate(700.1 714.8) rotate(-90)">S1</text>
<text transform="translate(712.8 657.9) rotate(-90)">S2</text>
<text transform="translate(729.3 714.8) rotate(-90)">S3</text>
<text transform="translate(741.3 657.9) rotate(-90)">S4</text>
<text transform="translate(751.8 714.8) rotate(-90)">S3</text>
<text transform="translate(759.7 657.9) rotate(-90)">S5</text>
<text transform="translate(769.8 714.8) rotate(-90)">S6</text>
<text transform="translate(789.3 657.9) rotate(-90)">S7</text>
<text transform="translate(796.8 714.8) rotate(-90)">S8</text>
<text transform="translate(816.3 657.9) rotate(-90)">S6</text>
<text transform="translate(836.6 714.8) rotate(-90)">BT</text>
<text transform="translate(848.6 657.9) rotate(-90)">B36</text>
<text transform="translate(857.6 714.8) rotate(-90)">B60</text>
<text transform="translate(874.8 657.9) rotate(-90)">LoTm</text>
<text transform="translate(888.3 714.8) rotate(-90)">Pyr</text>
<text transform="translate(901.8 657.9) rotate(-90)">G/S</text>
<text transform="translate(911.6 714.8) rotate(-90)">Glucon</text>
<text transform="translate(922.1 657.9) rotate(-90)">SMMPr</text>
<text transform="translate(930.6 714.8) rotate(-90)">T−5.40H</text>
<text transform="translate(932.8 657.9) rotate(-90)">T−4.40H</text>
<text transform="translate(934.4 714.8) rotate(-90)">T−3.40H</text>
<text transform="translate(936.3 657.9) rotate(-90)">T−2.40H</text>
<text transform="translate(938.1 714.8) rotate(-90)">T−1.40H</text>
<text transform="translate(941.4 657.9) rotate(-90)">T−1.10H</text>
<text transform="translate(942.4 714.8) rotate(-90)">T−0.40H</text>
<text transform="translate(945.4 657.9) rotate(-90)">T0.0H</text>
<text transform="translate(955.0 714.8) rotate(-90)">T0.30H</text>
<text transform="translate(959.4 657.9) rotate(-90)">T1.0H</text>
<text transform="translate(961.9 714.8) rotate(-90)">T1.30H</text>
<text transform="translate(966.9 657.9) rotate(-90)">T2.0H</text>
<text transform="translate(970.0 714.8) rotate(-90)">T2.30H</text>
<text transform="translate(972.5 657.9) rotate(-90)">T3.0H</text>
<text transform="translate(976.1 714.8) rotate(-90)">T3.30H</text>
<text transform="translate(978.6 657.9) rotate(-90)">T4.0H</text>
<text transform="translate(981.9 714.8) rotate(-90)">T5.0H</text>
<text transform="translate(991.1 657.9) rotate(-90)">M9−stat</text>
<text transform="translate(1010.6 714.8) rotate(-90)">BC</text>
<text transform="translate(1027.1 657.9) rotate(-90)">Sw</text>
<text transform="translate(1043.6 714.8) rotate(-90)">LPhT</text>
<text transform="translate(1060.6 657.9) rotate(-90)">LBGstat</text>
<text transform="translate(1076.3 714.8) rotate(-90)">LBGtran</text>
<text transform="translate(1085.3 657.9) rotate(-90)">M0t45</text>
<text transform="translate(1091.3 714.8) rotate(-90)">M40t45</text>
<text transform="translate(1100.3 657.9) rotate(-90)">Lbtran</text>
<text transform="translate(1110.1 714.8) rotate(-90)">Mt0</text>
<text transform="translate(1113.8 657.9) rotate(-90)">M40t45</text>
<text transform="translate(1123.6 714.8) rotate(-90)">M40t90</text>
<text transform="translate(1137.1 657.9) rotate(-90)">M0t90</text>
<text transform="translate(1148.1 714.8) rotate(-90)">Lbstat</text>
<text transform="translate(1161.1 657.9) rotate(-90)">BI</text>
<text transform="translate(1172.4 714.8) rotate(-90)">S0</text>
<text transform="translate(1187.5 657.9) rotate(-90)">M0t45</text>
<text transform="translate(1190.9 714.8) rotate(-90)">dia0</text>
<text transform="translate(1198.1 657.9) rotate(-90)">Lbexp</text>
<text transform="translate(1202.6 714.8) rotate(-90)">Mt0</text>
<text transform="translate(1206.3 657.9) rotate(-90)">Lbexp</text>
<text transform="translate(1210.1 714.8) rotate(-90)">Mt0</text>
</g>
<g stroke="#000" stroke-width="1.6">
<circle cx="138.0" cy="686.1" r="2.9" fill="#000"/>
<circle cx="140.5" cy="686.1" r="2.9" fill="#000"/>
<circle cx="144.2" cy="686.1" r="2.9" fill="#000"/>
<circle cx="148.2" cy="686.1" r="2.9" fill="#fff"/>
<circle cx="150.6" cy="686.1" r="2.9" fill="#fff"/>
<circle cx="151.8" cy="686.1" r="2.9" fill="#fff"/>
<circle cx="154.9" cy="686.1" r="2.9" fill="#000"/>
<circle cx="157.4" cy="686.1" r="2.9" fill="#000"/>
<circle cx="159.2" cy="686.1" r="2.9" fill="#000"/>
<circle cx="165.5" cy="686.1" r="2.9" fill="#fff"/>
<circle cx="168.6" cy="686.1" r="2.9" fill="#fff"/>
<circle cx="170.0" cy="686.1" r="2.9" fill="#fff"/>
<circle cx="175.5" cy="686.1" r="2.9" fill="#000"/>
<circle cx="177.5" cy="686.1" r="2.9" fill="#000"/>
<circle cx="178.5" cy="686.1" r="2.9" fill="#000"/>
<circle cx="183.0" cy="686.1" r="2.9" fill="#fff"/>
<circle cx="185.5" cy="686.1" r="2.9" fill="#fff"/>
<circle cx="188.0" cy="686.1" r="2.9" fill="#fff"/>
<circle cx="193.5" cy="686.1" r="2.9" fill="#000"/>
<circle cx="196.0" cy="686.1" r="2.9" fill="#000"/>
<circle cx="199.0" cy="686.1" r="2.9" fill="#000"/>
<circle cx="206.1" cy="686.1" r="2.9" fill="#fff"/>
<circle cx="211.8" cy="686.1" r="2.9" fill="#fff"/>
<circle cx="216.1" cy="686.1" r="2.9" fill="#fff"/>
<circle cx="222.8" cy="686.1" r="2.9" fill="#000"/>
<circle cx="224.8" cy="686.1" r="2.9" fill="#000"/>
<circle cx="227.0" cy="686.1" r="2.9" fill="#000"/>
<circle cx="233.0" cy="686.1" r="2.9" fill="#fff"/>
<circle cx="235.5" cy="686.1" r="2.9" fill="#fff"/>
<circle cx="239.2" cy="686.1" r="2.9" fill="#fff"/>
<circle cx="250.6" cy="686.1" r="2.9" fill="#000"/>
<circle cx="253.1" cy="686.1" r="2.9" fill="#000"/>
<circle cx="262.5" cy="686.1" r="2.9" fill="#fff"/>
<circle cx="265.6" cy="686.1" r="2.9" fill="#fff"/>
<circle cx="276.9" cy="686.1" r="2.9" fill="#000"/>
<circle cx="278.8" cy="686.1" r="2.9" fill="#000"/>
<circle cx="281.9" cy="686.1" r="2.9" fill="#000"/>
<circle cx="290.0" cy="686.1" r="2.9" fill="#fff"/>
<circle cx="295.0" cy="686.1" r="2.9" fill="#fff"/>
<circle cx="296.9" cy="686.1" r="2.9" fill="#fff"/>
<circle cx="299.4" cy="686.1" r="2.9" fill="#000"/>
<circle cx="301.2" cy="686.1" r="2.9" fill="#000"/>
<circle cx="309.4" cy="686.1" r="2.9" fill="#fff"/>
<circle cx="311.9" cy="686.1" r="2.9" fill="#fff"/>
<circle cx="317.5" cy="686.1" r="2.9" fill="#fff"/>
<circle cx="326.2" cy="686.1" r="2.9" fill="#000"/>
<circle cx="330.6" cy="686.1" r="2.9" fill="#000"/>
<circle cx="334.4" cy="686.1" r="2.9" fill="#000"/>
<circle cx="338.8" cy="686.1" r="2.9" fill="#fff"/>
<circle cx="343.1" cy="686.1" r="2.9" fill="#fff"/>
<circle cx="348.1" cy="686.1" r="2.9" fill="#fff"/>
<circle cx="356.2" cy="686.1" r="2.9" fill="#000"/>
<circle cx="360.0" cy="686.1" r="2.9" fill="#fff"/>
<circle cx="363.0" cy="686.1" r="2.9" fill="#fff"/>
<circle cx="365.6" cy="686.1" r="2.9" fill="#fff"/>
<circle cx="370.0" cy="686.1" r="2.9" fill="#000"/>
<circle cx="372.5" cy="686.1" r="2.9" fill="#000"/>
<circle cx="377.0" cy="686.1" r="2.9" fill="#fff"/>
<circle cx="380.5" cy="686.1" r="2.9" fill="#fff"/>
<circle cx="383.0" cy="686.1" r="2.9" fill="#fff"/>
<circle cx="385.0" cy="686.1" r="2.9" fill="#000"/>
<circle cx="388.0" cy="686.1" r="2.9" fill="#000"/>
<circle cx="390.9" cy="686.1" r="2.9" fill="#fff"/>
<circle cx="391.9" cy="686.1" r="2.9" fill="#000"/>
<circle cx="395.2" cy="686.1" r="2.9" fill="#fff"/>
<circle cx="397.3" cy="686.1" r="2.9" fill="#000"/>
<circle cx="399.6" cy="686.1" r="2.9" fill="#fff"/>
<circle cx="401.4" cy="686.1" r="2.9" fill="#000"/>
<circle cx="403.7" cy="686.1" r="2.9" fill="#fff"/>
<circle cx="407.5" cy="686.1" r="2.9" fill="#000"/>
<circle cx="410.5" cy="686.1" r="2.9" fill="#fff"/>
<circle cx="411.6" cy="686.1" r="2.9" fill="#000"/>
<circle cx="414.6" cy="686.1" r="2.9" fill="#fff"/>
<circle cx="416.8" cy="686.1" r="2.9" fill="#000"/>
<circle cx="420.9" cy="686.1" r="2.9" fill="#fff"/>
<circle cx="423.5" cy="686.1" r="2.9" fill="#000"/>
<circle cx="425.9" cy="686.1" r="2.9" fill="#fff"/>
<circle cx="426.9" cy="686.1" r="2.9" fill="#000"/>
<circle cx="429.9" cy="686.1" r="2.9" fill="#fff"/>
<circle cx="432.5" cy="686.1" r="2.9" fill="#000"/>
<circle cx="435.5" cy="686.1" r="2.9" fill="#000"/>
<circle cx="437.7" cy="686.1" r="2.9" fill="#fff"/>
<circle cx="438.8" cy="686.1" r="2.9" fill="#000"/>
<circle cx="441.1" cy="686.1" r="2.9" fill="#fff"/>
<circle cx="445.0" cy="686.1" r="2.9" fill="#000"/>
<circle cx="448.4" cy="686.1" r="2.9" fill="#fff"/>
<circle cx="453.5" cy="686.1" r="2.9" fill="#000"/>
<circle cx="456.5" cy="686.1" r="2.9" fill="#000"/>
<circle cx="458.7" cy="686.1" r="2.9" fill="#fff"/>
<circle cx="459.8" cy="686.1" r="2.9" fill="#000"/>
<circle cx="461.8" cy="686.1" r="2.9" fill="#000"/>
<circle cx="464.6" cy="686.1" r="2.9" fill="#fff"/>
<circle cx="467.4" cy="686.1" r="2.9" fill="#fff"/>
<circle cx="469.6" cy="686.1" r="2.9" fill="#000"/>
<circle cx="472.4" cy="686.1" r="2.9" fill="#fff"/>
<circle cx="474.6" cy="686.1" r="2.9" fill="#000"/>
<circle cx="476.8" cy="686.1" r="2.9" fill="#fff"/>
<circle cx="479.0" cy="686.1" r="2.9" fill="#000"/>
<circle cx="481.5" cy="686.1" r="2.9" fill="#fff"/>
<circle cx="483.7" cy="686.1" r="2.9" fill="#000"/>
<circle cx="486.5" cy="686.1" r="2.9" fill="#fff"/>
<circle cx="487.6" cy="686.1" r="2.9" fill="#000"/>
<circle cx="490.5" cy="686.1" r="2.9" fill="#fff"/>
<circle cx="491.6" cy="686.1" r="2.9" fill="#000"/>
<circle cx="494.9" cy="686.1" r="2.9" fill="#fff"/>
<circle cx="498.0" cy="686.1" r="2.9" fill="#000"/>
<circle cx="502.7" cy="686.1" r="2.9" fill="#fff"/>
<circle cx="505.6" cy="686.1" r="2.9" fill="#000"/>
<circle cx="508.4" cy="686.1" r="2.9" fill="#fff"/>
<circle cx="510.0" cy="686.1" r="2.9" fill="#000"/>
<circle cx="511.5" cy="686.1" r="2.9" fill="#fff"/>
<circle cx="513.8" cy="686.1" r="2.9" fill="#000"/>
<circle cx="517.7" cy="686.1" r="2.9" fill="#fff"/>
<circle cx="519.5" cy="686.1" r="2.9" fill="#000"/>
<circle cx="522.7" cy="686.1" r="2.9" fill="#fff"/>
<circle cx="523.8" cy="686.1" r="2.9" fill="#000"/>
<circle cx="526.5" cy="686.1" r="2.9" fill="#fff"/>
<circle cx="528.5" cy="686.1" r="2.9" fill="#000"/>
<circle cx="535.6" cy="686.1" r="2.9" fill="#fff"/>
<circle cx="537.5" cy="686.1" r="2.9" fill="#fff"/>
<circle cx="543.0" cy="686.1" r="2.9" fill="#000"/>
<circle cx="545.6" cy="686.1" r="2.9" fill="#000"/>
<circle cx="550.6" cy="686.1" r="2.9" fill="#000"/>
<circle cx="556.0" cy="686.1" r="2.9" fill="#fff"/>
<circle cx="560.5" cy="686.1" r="2.9" fill="#fff"/>
<circle cx="563.8" cy="686.1" r="2.9" fill="#fff"/>
<circle cx="571.0" cy="686.1" r="2.9" fill="#000"/>
<circle cx="572.5" cy="686.1" r="2.9" fill="#000"/>
<circle cx="576.0" cy="686.1" r="2.9" fill="#fff"/>
<circle cx="578.8" cy="686.1" r="2.9" fill="#fff"/>
<circle cx="580.0" cy="686.1" r="2.9" fill="#fff"/>
<circle cx="586.0" cy="686.1" r="2.9" fill="#000"/>
<circle cx="587.0" cy="686.1" r="2.9" fill="#000"/>
<circle cx="593.0" cy="686.1" r="2.9" fill="#fff"/>
<circle cx="595.0" cy="686.1" r="2.9" fill="#fff"/>
<circle cx="598.0" cy="686.1" r="2.9" fill="#fff"/>
<circle cx="603.8" cy="686.1" r="2.9" fill="#000"/>
<circle cx="608.0" cy="686.1" r="2.9" fill="#000"/>
<circle cx="619.4" cy="686.1" r="2.9" fill="#fff"/>
<circle cx="621.2" cy="686.1" r="2.9" fill="#fff"/>
<circle cx="624.4" cy="686.1" r="2.9" fill="#fff"/>
<circle cx="635.0" cy="686.1" r="2.9" fill="#000"/>
<circle cx="638.1" cy="686.1" r="2.9" fill="#000"/>
<circle cx="646.9" cy="686.1" r="2.9" fill="#fff"/>
<circle cx="651.9" cy="686.1" r="2.9" fill="#fff"/>
<circle cx="655.0" cy="686.1" r="2.9" fill="#fff"/>
<circle cx="662.5" cy="686.1" r="2.9" fill="#000"/>
<circle cx="670.0" cy="686.1" r="2.9" fill="#000"/>
<circle cx="673.1" cy="686.1" r="2.9" fill="#000"/>
<circle cx="682.5" cy="686.1" r="2.9" fill="#fff"/>
<circle cx="683.0" cy="686.1" r="2.9" fill="#fff"/>
<circle cx="685.6" cy="686.1" r="2.9" fill="#fff"/>
<circle cx="695.0" cy="686.1" r="2.9" fill="#000"/>
<circle cx="699.4" cy="686.1" r="2.9" fill="#000"/>
<circle cx="708.1" cy="686.1" r="2.9" fill="#fff"/>
<circle cx="711.2" cy="686.1" r="2.9" fill="#fff"/>
<circle cx="714.4" cy="686.1" r="2.9" fill="#fff"/>
<circle cx="725.6" cy="686.1" r="2.9" fill="#000"/>
<circle cx="728.0" cy="686.1" r="2.9" fill="#000"/>
<circle cx="735.0" cy="686.1" r="2.9" fill="#fff"/>
<circle cx="739.4" cy="686.1" r="2.9" fill="#fff"/>
<circle cx="742.5" cy="686.1" r="2.9" fill="#fff"/>
<circle cx="746.9" cy="686.1" r="2.9" fill="#000"/>
<circle cx="755.6" cy="686.1" r="2.9" fill="#fff"/>
<circle cx="757.5" cy="686.1" r="2.9" fill="#fff"/>
<circle cx="758.8" cy="686.1" r="2.9" fill="#fff"/>
<circle cx="766.2" cy="686.1" r="2.9" fill="#000"/>
<circle cx="768.8" cy="686.1" r="2.9" fill="#000"/>
<circle cx="771.2" cy="686.1" r="2.9" fill="#000"/>
<circle cx="773.0" cy="686.1" r="2.9" fill="#000"/>
<circle cx="777.5" cy="686.1" r="2.9" fill="#000"/>
<circle cx="777.5" cy="686.1" r="2.9" fill="#000"/>
<circle cx="778.8" cy="686.1" r="2.9" fill="#000"/>
<circle cx="783.8" cy="686.1" r="2.9" fill="#fff"/>
<circle cx="787.5" cy="686.1" r="2.9" fill="#fff"/>
<circle cx="790.0" cy="686.1" r="2.9" fill="#fff"/>
<circle cx="792.5" cy="686.1" r="2.9" fill="#000"/>
<circle cx="801.9" cy="686.1" r="2.9" fill="#000"/>
<circle cx="811.9" cy="686.1" r="2.9" fill="#fff"/>
<circle cx="815.0" cy="686.1" r="2.9" fill="#fff"/>
<circle cx="832.5" cy="686.1" r="2.9" fill="#000"/>
<circle cx="835.0" cy="686.1" r="2.9" fill="#000"/>
<circle cx="843.8" cy="686.1" r="2.9" fill="#fff"/>
<circle cx="846.2" cy="686.1" r="2.9" fill="#fff"/>
<circle cx="853.5" cy="686.1" r="2.9" fill="#000"/>
<circle cx="858.5" cy="686.1" r="2.9" fill="#000"/>
<circle cx="868.8" cy="686.1" r="2.9" fill="#fff"/>
<circle cx="871.9" cy="686.1" r="2.9" fill="#fff"/>
<circle cx="876.2" cy="686.1" r="2.9" fill="#fff"/>
<circle cx="885.6" cy="686.1" r="2.9" fill="#000"/>
<circle cx="890.0" cy="686.1" r="2.9" fill="#000"/>
<circle cx="892.5" cy="686.1" r="2.9" fill="#000"/>
<circle cx="897.0" cy="686.1" r="2.9" fill="#fff"/>
<circle cx="900.0" cy="686.1" r="2.9" fill="#fff"/>
<circle cx="908.0" cy="686.1" r="2.9" fill="#000"/>
<circle cx="911.2" cy="686.1" r="2.9" fill="#000"/>
<circle cx="918.0" cy="686.1" r="2.9" fill="#fff"/>
<circle cx="922.5" cy="686.1" r="2.9" fill="#fff"/>
<circle cx="927.5" cy="686.1" r="2.9" fill="#000"/>
<circle cx="929.7" cy="686.1" r="2.9" fill="#fff"/>
<circle cx="931.3" cy="686.1" r="2.9" fill="#000"/>
<circle cx="933.2" cy="686.1" r="2.9" fill="#fff"/>
<circle cx="935.0" cy="686.1" r="2.9" fill="#000"/>
<circle cx="938.3" cy="686.1" r="2.9" fill="#fff"/>
<circle cx="939.3" cy="686.1" r="2.9" fill="#000"/>
<circle cx="942.3" cy="686.1" r="2.9" fill="#fff"/>
<circle cx="951.9" cy="686.1" r="2.9" fill="#000"/>
<circle cx="956.2" cy="686.1" r="2.9" fill="#fff"/>
<circle cx="958.8" cy="686.1" r="2.9" fill="#000"/>
<circle cx="963.8" cy="686.1" r="2.9" fill="#fff"/>
<circle cx="966.9" cy="686.1" r="2.9" fill="#000"/>
<circle cx="969.4" cy="686.1" r="2.9" fill="#fff"/>
<circle cx="973.0" cy="686.1" r="2.9" fill="#000"/>
<circle cx="975.5" cy="686.1" r="2.9" fill="#fff"/>
<circle cx="978.8" cy="686.1" r="2.9" fill="#000"/>
<circle cx="986.2" cy="686.1" r="2.9" fill="#fff"/>
<circle cx="992.0" cy="686.1" r="2.9" fill="#fff"/>
<circle cx="994.4" cy="686.1" r="2.9" fill="#fff"/>
<circle cx="1006.2" cy="686.1" r="2.9" fill="#000"/>
<circle cx="1009.4" cy="686.1" r="2.9" fill="#000"/>
<circle cx="1012.5" cy="686.1" r="2.9" fill="#000"/>
<circle cx="1015.0" cy="686.1" r="2.9" fill="#000"/>
<circle cx="1022.5" cy="686.1" r="2.9" fill="#fff"/>
<circle cx="1025.6" cy="686.1" r="2.9" fill="#fff"/>
<circle cx="1039.4" cy="686.1" r="2.9" fill="#000"/>
<circle cx="1043.0" cy="686.1" r="2.9" fill="#000"/>
<circle cx="1055.6" cy="686.1" r="2.9" fill="#fff"/>
<circle cx="1060.0" cy="686.1" r="2.9" fill="#fff"/>
<circle cx="1065.6" cy="686.1" r="2.9" fill="#fff"/>
<circle cx="1071.9" cy="686.1" r="2.9" fill="#000"/>
<circle cx="1075.6" cy="686.1" r="2.9" fill="#000"/>
<circle cx="1080.6" cy="686.1" r="2.9" fill="#fff"/>
<circle cx="1084.4" cy="686.1" r="2.9" fill="#fff"/>
<circle cx="1086.9" cy="686.1" r="2.9" fill="#000"/>
<circle cx="1090.6" cy="686.1" r="2.9" fill="#000"/>
<circle cx="1095.0" cy="686.1" r="2.9" fill="#fff"/>
<circle cx="1097.5" cy="686.1" r="2.9" fill="#fff"/>
<circle cx="1103.0" cy="686.1" r="2.9" fill="#fff"/>
<circle cx="1106.2" cy="686.1" r="2.9" fill="#000"/>
<circle cx="1110.0" cy="686.1" r="2.9" fill="#fff"/>
<circle cx="1118.8" cy="686.1" r="2.9" fill="#000"/>
<circle cx="1121.2" cy="686.1" r="2.9" fill="#000"/>
<circle cx="1126.2" cy="686.1" r="2.9" fill="#000"/>
<circle cx="1132.0" cy="686.1" r="2.9" fill="#fff"/>
<circle cx="1135.0" cy="686.1" r="2.9" fill="#fff"/>
<circle cx="1138.8" cy="686.1" r="2.9" fill="#fff"/>
<circle cx="1145.0" cy="686.1" r="2.9" fill="#000"/>
<circle cx="1147.5" cy="686.1" r="2.9" fill="#000"/>
<circle cx="1156.2" cy="686.1" r="2.9" fill="#fff"/>
<circle cx="1158.8" cy="686.1" r="2.9" fill="#fff"/>
<circle cx="1168.0" cy="686.1" r="2.9" fill="#000"/>
<circle cx="1171.2" cy="686.1" r="2.9" fill="#000"/>
<circle cx="1173.0" cy="686.1" r="2.9" fill="#000"/>
<circle cx="1182.5" cy="686.1" r="2.9" fill="#fff"/>
<circle cx="1186.2" cy="686.1" r="2.9" fill="#000"/>
<circle cx="1191.2" cy="686.1" r="2.9" fill="#000"/>
<circle cx="1195.0" cy="686.1" r="2.9" fill="#fff"/>
<circle cx="1196.2" cy="686.1" r="2.9" fill="#fff"/>
<circle cx="1200.0" cy="686.1" r="2.9" fill="#000"/>
<circle cx="1202.6" cy="686.1" r="2.9" fill="#fff"/>
<circle cx="1205.6" cy="686.1" r="2.9" fill="#000"/>
</g>
</svg>
</body></html>
